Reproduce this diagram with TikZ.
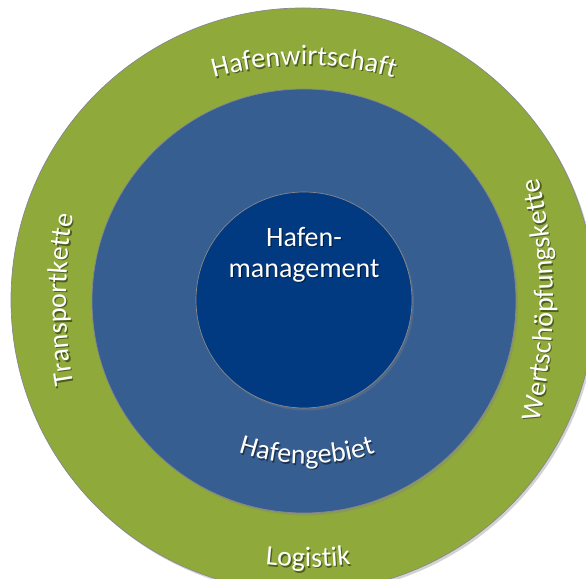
\documentclass[tikz,border=0pt]{standalone}
\usepackage{fontspec}
\setmainfont{Carlito}
\usetikzlibrary{decorations.text,shadows}

\definecolor{ringgreen}{RGB}{143,170,58}
\definecolor{ringblue}{RGB}{55,94,145}
\definecolor{coreblue}{RGB}{1,58,128}
\definecolor{rimgray}{RGB}{135,135,140}

\newcommand{\lblfont}{\fontsize{28}{31}\selectfont}

% one label set on an arc: centre, radius, start angle, end angle, text
\newcommand{\curvedlabel}[5]{%
  \begin{scope}[opacity=0.45, shift={(1.3pt,-1.6pt)}]
    \path[decorate, decoration={text along path, text align=center,
      text={|\lblfont\color{black}|#5}}] (#1) ++(#3:#2) arc[start angle=#3, end angle=#4, radius=#2];
  \end{scope}
  \path[decorate, decoration={text along path, text align=center,
    text={|\lblfont\color{white}|#5}}] (#1) ++(#3:#2) arc[start angle=#3, end angle=#4, radius=#2];
}

\tikzset{
  disc/.style={circle, inner sep=0pt, outer sep=0pt, draw=rimgray, line width=0.7pt,
    drop shadow={shadow xshift=2pt, shadow yshift=-2.5pt, opacity=0.35}},
  corelabel/.style={font=\lblfont, align=center, inner sep=0pt},
}

\begin{document}
\begin{tikzpicture}[x=1pt, y=1pt]
  \useasboundingbox (0,0) rectangle (586,578);
  \clip (0,0) rectangle (586,578);

  % three nested circles
  \node[disc, fill=ringgreen, minimum size=584pt] (outer) at (303,278) {};
  \node[disc, fill=ringblue, minimum size=424pt] (middle) at (304,277) {};
  \node[disc, fill=coreblue, minimum size=216pt] (core) at (304,278) {};

  % centre text
  \node[corelabel, text=black, opacity=0.45] at (305.3,321.9) {Hafen-\\management};
  \node[corelabel, text=white] (corelbl) at (304,323.5) {Hafen-\\management};

  % labels on the rings
  \curvedlabel{304,183}{330pt}{120}{60}{Hafenwirtschaft}
  \curvedlabel{13,278}{540pt}{-35}{35}{Wertschöpfungskette}
  \curvedlabel{566,278}{500pt}{192}{168}{Transportkette}
  \curvedlabel{307,330}{216pt}{220}{320}{Hafengebiet}
  \curvedlabel{308,411}{400pt}{255}{285}{Logistik}
\end{tikzpicture}
\end{document}
